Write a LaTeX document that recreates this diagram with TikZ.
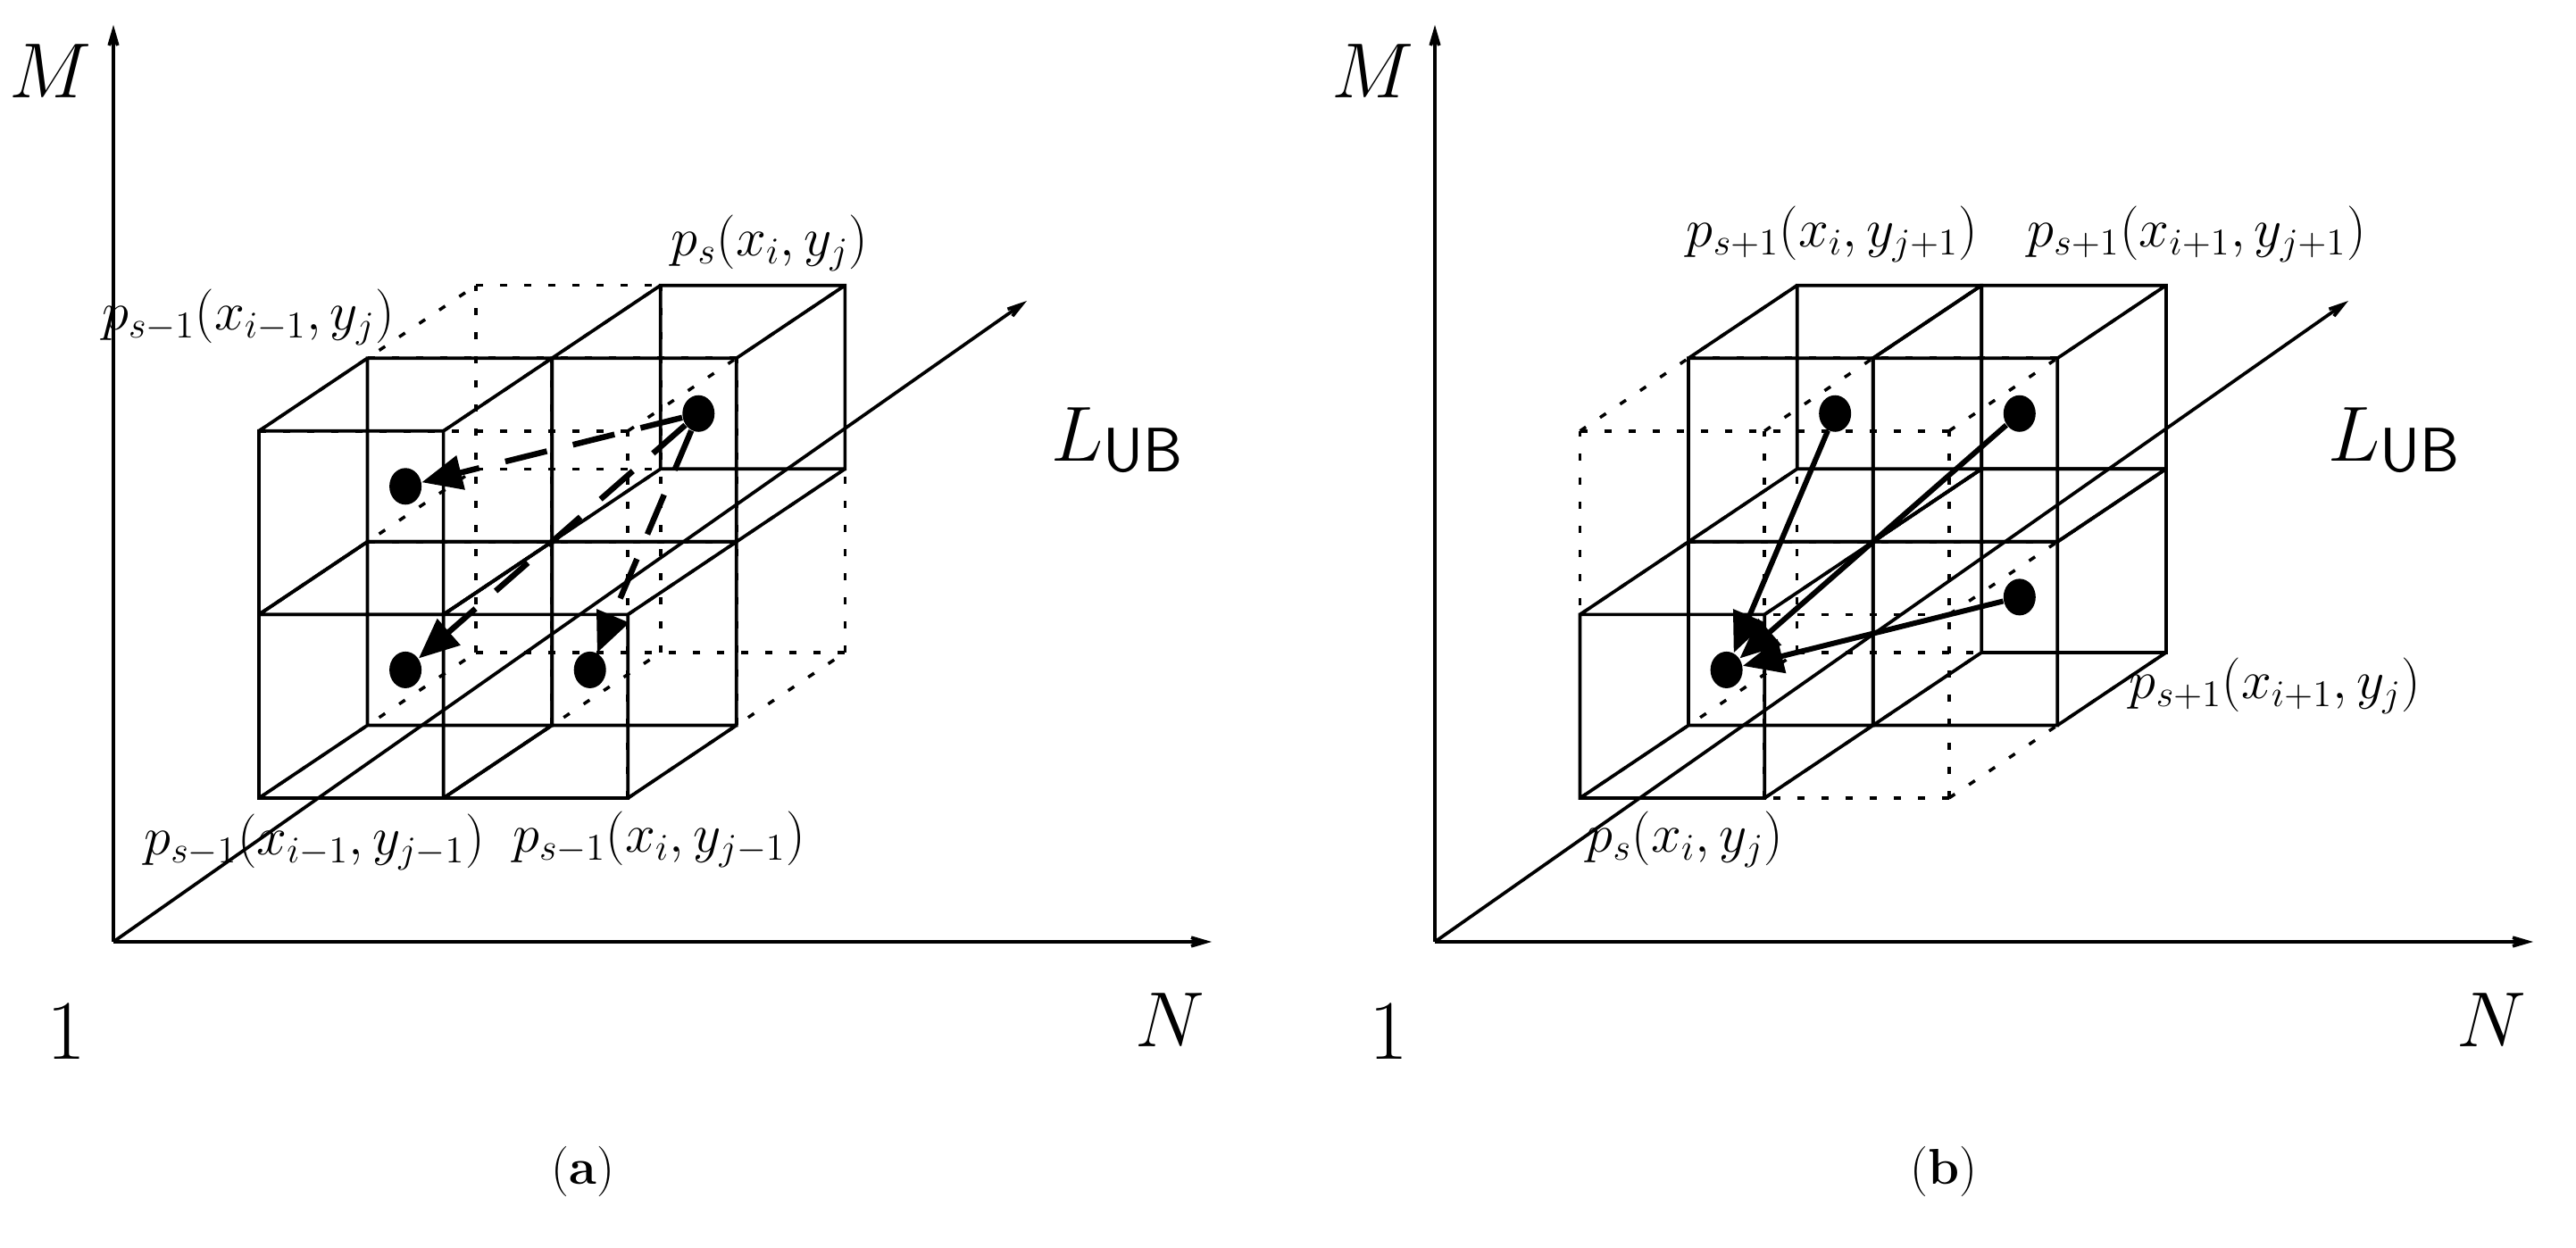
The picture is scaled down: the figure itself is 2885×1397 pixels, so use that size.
\documentclass[tikz,border=0pt]{standalone}
\usetikzlibrary{arrows.meta,shapes.geometric}
\newcommand{\solidcube}[3]{%
  \draw[edge] (#1,#2,#3) -- ({#1+1},#2,#3) -- ({#1+1},{#2+1},#3) -- (#1,{#2+1},#3) -- cycle
    (#1,#2,{#3+1}) -- ({#1+1},#2,{#3+1}) -- ({#1+1},{#2+1},{#3+1}) -- (#1,{#2+1},{#3+1}) -- cycle
    (#1,#2,#3) -- (#1,#2,{#3+1})
    ({#1+1},#2,#3) -- ({#1+1},#2,{#3+1})
    ({#1+1},{#2+1},#3) -- ({#1+1},{#2+1},{#3+1})
    (#1,{#2+1},#3) -- (#1,{#2+1},{#3+1});}
\newcommand{\hiddengrid}{%
  \foreach \p in {0,1,2}{\foreach \q in {0,1,2}{%
    \draw[hid] (0,\p,\q) -- (2,\p,\q);
    \draw[hid] (\p,0,\q) -- (\p,2,\q);
    \draw[hid] (\p,\q,0) -- (\p,\q,2);}}}
\begin{document}
\begin{tikzpicture}[x=0.01cm,y=-0.01cm,
  edge/.style={line width=0.037cm,line join=miter},
  hid/.style={line width=0.035cm,dash pattern=on 0.08cm off 0.19cm},
  axis/.style={line width=0.037cm,-{Stealth[length=0.58cm,width=0.34cm,inset=0.42cm]}},
  dotnode/.style={ellipse,fill=black,inner sep=0pt,minimum width=0.36cm,minimum height=0.41cm},
  darrow/.style={line width=0.065cm,dash pattern=on 0.48cm off 0.3cm,-{Triangle[length=0.45cm,width=0.38cm]}},
  sarrow/.style={line width=0.06cm,-{Triangle[length=0.45cm,width=0.38cm]}},
  lab/.style={inner sep=0pt,font=\fontsize{17}{20}\selectfont},
  biglab/.style={inner sep=0pt,font=\fontsize{27}{30}\selectfont},
  caplab/.style={inner sep=0pt,font=\fontsize{16}{18}\selectfont}]
\useasboundingbox (0,0) rectangle (2885,1397);
% ---------------- panel (a) ----------------
\coordinate (Oa) at (127,1055);
\coordinate (Ma) at (127,28);
\coordinate (Na) at (1357,1055);
\coordinate (La) at (1150,337);
\begin{scope}[shift={(290,894)},x={(2.065cm,0cm)},y={(0cm,2.055cm)},z={(1.215cm,0.815cm)}]
  \hiddengrid
  \solidcube{0}{0}{0}
  \solidcube{0}{1}{0}
  \solidcube{1}{0}{0}
  \solidcube{1}{1}{1}
  \node[dotnode] (a1) at (0.5,0.5,0.5) {};
  \node[dotnode] (a2) at (1.5,0.5,0.5) {};
  \node[dotnode] (a3) at (0.5,1.5,0.5) {};
  \node[dotnode] (a4) at (1.5,1.5,1.5) {};
\end{scope}
\draw[axis] (Oa) -- (Ma);
\draw[axis] (Oa) -- (Na);
\draw[axis] (Oa) -- (La);
\draw[darrow] (a4) -- (a3);
\draw[darrow] (a4) -- (a1);
\draw[darrow] (a4) -- (a2);
\node[biglab] (lMa) at (57,80) {$M$};
\node[biglab] (lNa) at (1310,1143) {$N$};
\node[biglab] (l1a) at (74,1155) {1};
\node[inner sep=0pt] (lLa) at (1251,493) {\fontsize{28}{30}\selectfont$L$\raisebox{-0.12em}{\fontsize{20}{22}\selectfont\sffamily UB}};
\node[lab] (tps) at (862,272) {$p_s(x_i,y_j)$};
\node[lab] (tpa) at (278,355) {$p_{s-1}(x_{i-1},y_j)$};
\node[lab] (tpb) at (352,943) {$p_{s-1}\bigl(x_{i-1},y_{j-1}\bigr)$};
\node[lab] (tpc) at (738,940) {$p_{s-1}\bigl(x_i,y_{j-1}\bigr)$};
\node[caplab] (capa) at (653,1312) {(\textbf{a})};
% ---------------- panel (b) ----------------
\coordinate (Ob) at (1607,1055);
\coordinate (Mb) at (1607,28);
\coordinate (Nb) at (2837,1055);
\coordinate (Lb) at (2630,337);
\begin{scope}[shift={(1769.5,894)},x={(2.065cm,0cm)},y={(0cm,2.055cm)},z={(1.215cm,0.815cm)}]
  \hiddengrid
  \solidcube{0}{0}{0}
  \solidcube{0}{1}{1}
  \solidcube{1}{1}{1}
  \solidcube{1}{0}{1}
  \node[dotnode] (b1) at (0.5,0.5,0.5) {};
  \node[dotnode] (b2) at (0.5,1.5,1.5) {};
  \node[dotnode] (b3) at (1.5,1.5,1.5) {};
  \node[dotnode] (b4) at (1.5,0.5,1.5) {};
\end{scope}
\draw[axis] (Ob) -- (Mb);
\draw[axis] (Ob) -- (Nb);
\draw[axis] (Ob) -- (Lb);
\draw[sarrow] (b2) -- (b1);
\draw[sarrow] (b3) -- (b1);
\draw[sarrow] (b4) -- (b1);
\node[biglab] (lMb) at (1537,80) {$M$};
\node[biglab] (lNb) at (2790,1143) {$N$};
\node[biglab] (l1b) at (1555,1155) {1};
\node[inner sep=0pt] (lLb) at (2681,493) {\fontsize{28}{30}\selectfont$L$\raisebox{-0.12em}{\fontsize{20}{22}\selectfont\sffamily UB}};
\node[lab] (tq1) at (2052,262) {$p_{s+1}\bigl(x_i,y_{j+1}\bigr)$};
\node[lab] (tq2) at (2460,262) {$p_{s+1}\bigl(x_{i+1},y_{j+1}\bigr)$};
\node[lab] (tq3) at (2548,768) {$p_{s+1}(x_{i+1},y_j)$};
\node[lab] (tq4) at (1887,940) {$p_s(x_i,y_j)$};
\node[caplab] (capb) at (2177,1312) {(\textbf{b})};
\end{tikzpicture}
\end{document}
